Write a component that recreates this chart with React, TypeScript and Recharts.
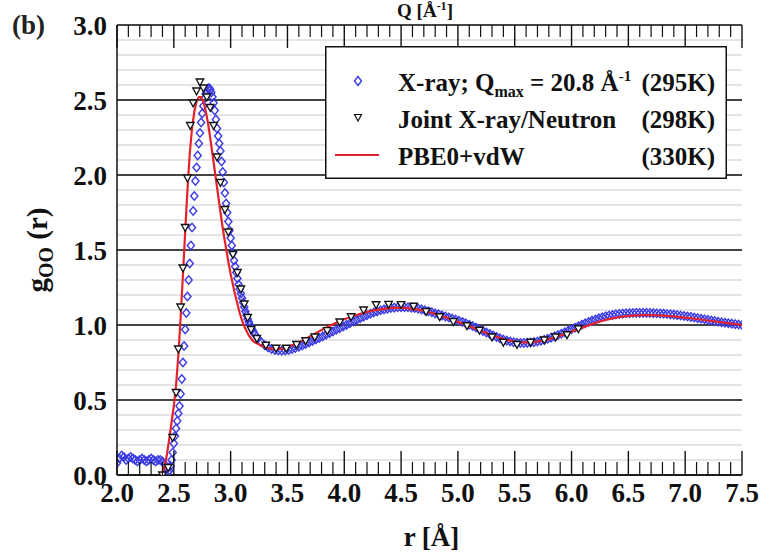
import React from "react"
import { ScatterChart, Scatter, XAxis, YAxis, CartesianGrid, Legend } from "recharts"

const FONT = '"Liberation Serif", "Times New Roman", serif'
const INK = "#111"
const BLUE = "#3a3ae6"
const RED = "#e2232b"
const PLOT_TOP = 25
const X_TICK_MARGIN = 8

// axis ticks
const xMinorTicks = Array.from({ length: 56 }, (_, i) => Math.round(20 + i) / 10)
const yMajorTicks = [0, 0.5, 1.0, 1.5, 2.0, 2.5, 3.0]
const yMinorTicks = Array.from({ length: 31 }, (_, i) => i / 10)

// X-ray g_OO(r), Qmax = 20.8 1/A (295K)
const xrayLow = [
  [2.00, 0.08], [2.02, 0.11], [2.04, 0.13], [2.06, 0.12], [2.08, 0.10], [2.10, 0.11], [2.12, 0.12], [2.14, 0.11],
  [2.16, 0.10], [2.18, 0.09], [2.20, 0.10], [2.22, 0.11], [2.24, 0.10], [2.26, 0.09], [2.28, 0.10], [2.30, 0.11],
  [2.32, 0.10], [2.34, 0.09], [2.36, 0.10], [2.38, 0.10], [2.40, 0.09], [2.42, 0.07], [2.44, 0.04],
]
const xrayPeak = [
  [2.45, 0.02], [2.46, 0.03], [2.47, 0.06], [2.48, 0.10], [2.49, 0.15], [2.50, 0.21], [2.51, 0.26], [2.52, 0.31],
  [2.53, 0.36], [2.54, 0.41], [2.55, 0.46], [2.56, 0.54], [2.57, 0.64], [2.58, 0.75], [2.59, 0.86], [2.60, 0.97],
  [2.61, 1.08], [2.62, 1.19], [2.63, 1.30], [2.64, 1.41], [2.65, 1.53], [2.66, 1.65], [2.67, 1.76], [2.68, 1.86],
  [2.69, 1.96], [2.70, 2.05], [2.71, 2.13], [2.72, 2.21], [2.73, 2.28], [2.74, 2.35], [2.75, 2.41], [2.76, 2.46],
  [2.77, 2.51], [2.78, 2.54], [2.79, 2.56], [2.80, 2.575], [2.81, 2.58], [2.82, 2.57], [2.83, 2.55], [2.84, 2.52],
  [2.85, 2.48], [2.86, 2.43], [2.87, 2.37], [2.88, 2.31], [2.89, 2.26], [2.90, 2.21], [2.91, 2.16], [2.92, 2.09],
  [2.93, 2.02], [2.94, 1.95], [2.95, 1.88], [2.96, 1.81], [2.97, 1.75], [2.98, 1.69], [2.99, 1.63], [3.00, 1.58],
  [3.01, 1.53], [3.02, 1.48], [3.03, 1.43], [3.04, 1.39], [3.05, 1.35], [3.06, 1.31], [3.07, 1.27], [3.08, 1.24],
  [3.09, 1.21], [3.10, 1.18], [3.11, 1.15], [3.12, 1.12], [3.13, 1.09], [3.14, 1.065], [3.15, 1.04], [3.16, 1.02],
  [3.17, 1.00], [3.18, 0.985], [3.19, 0.97], [3.20, 0.955],
]
const xrayTail = [
  [3.21, 0.94], [3.24, 0.91], [3.27, 0.885], [3.30, 0.865], [3.33, 0.85], [3.36, 0.84], [3.39, 0.834], [3.42, 0.83],
  [3.45, 0.829], [3.48, 0.83], [3.51, 0.834], [3.54, 0.84], [3.57, 0.847], [3.60, 0.855], [3.63, 0.864], [3.66, 0.873],
  [3.69, 0.883], [3.72, 0.893], [3.75, 0.903], [3.78, 0.913], [3.81, 0.924], [3.84, 0.935], [3.87, 0.946], [3.90, 0.957],
  [3.93, 0.968], [3.96, 0.979], [3.99, 0.99], [4.02, 1.001], [4.05, 1.012], [4.08, 1.023], [4.11, 1.034], [4.14, 1.045],
  [4.17, 1.056], [4.20, 1.066], [4.23, 1.075], [4.26, 1.083], [4.29, 1.091], [4.32, 1.098], [4.35, 1.104], [4.38, 1.109],
  [4.41, 1.113], [4.44, 1.116], [4.47, 1.118], [4.50, 1.119], [4.53, 1.119], [4.56, 1.118], [4.59, 1.116], [4.62, 1.113],
  [4.65, 1.109], [4.68, 1.104], [4.71, 1.098], [4.74, 1.092], [4.77, 1.085], [4.80, 1.077], [4.83, 1.071], [4.86, 1.064],
  [4.89, 1.057], [4.92, 1.050], [4.95, 1.043], [4.98, 1.036], [5.01, 1.028], [5.04, 1.020], [5.07, 1.011], [5.10, 1.002],
  [5.13, 0.993], [5.16, 0.983], [5.19, 0.972], [5.22, 0.961], [5.25, 0.950], [5.28, 0.940], [5.31, 0.930], [5.34, 0.920],
  [5.37, 0.911], [5.40, 0.903], [5.43, 0.896], [5.46, 0.890], [5.49, 0.885], [5.52, 0.882], [5.55, 0.880], [5.58, 0.880],
  [5.61, 0.881], [5.64, 0.883], [5.67, 0.886], [5.70, 0.890], [5.73, 0.895], [5.76, 0.901], [5.79, 0.908], [5.82, 0.916],
  [5.85, 0.924], [5.88, 0.933], [5.91, 0.942], [5.94, 0.952], [5.97, 0.962], [6.00, 0.972], [6.03, 0.982], [6.06, 0.992],
  [6.09, 1.002], [6.12, 1.011], [6.15, 1.020], [6.18, 1.029], [6.21, 1.037], [6.24, 1.045], [6.27, 1.052], [6.30, 1.058],
  [6.33, 1.063], [6.36, 1.067], [6.39, 1.071], [6.42, 1.074], [6.45, 1.076], [6.48, 1.078], [6.51, 1.079], [6.54, 1.080],
  [6.57, 1.081], [6.60, 1.081], [6.63, 1.081], [6.66, 1.081], [6.69, 1.080], [6.72, 1.079], [6.75, 1.078], [6.78, 1.077],
  [6.81, 1.075], [6.84, 1.073], [6.87, 1.071], [6.90, 1.069], [6.93, 1.066], [6.96, 1.063], [6.99, 1.060], [7.02, 1.057],
  [7.05, 1.054], [7.08, 1.050], [7.11, 1.046], [7.14, 1.042], [7.17, 1.038], [7.20, 1.034], [7.23, 1.030], [7.26, 1.026],
  [7.29, 1.022], [7.32, 1.018], [7.35, 1.015], [7.38, 1.012], [7.41, 1.009], [7.44, 1.006], [7.47, 1.003], [7.50, 1.000],
]

// joint X-ray/neutron fit (298K)
const joint = [
  [2.40, 0.00], [2.45, 0.05], [2.49, 0.25], [2.52, 0.55], [2.54, 0.84], [2.56, 1.12], [2.58, 1.38], [2.60, 1.65],
  [2.62, 1.98], [2.645, 2.33], [2.67, 2.48], [2.70, 2.56], [2.73, 2.62], [2.76, 2.58], [2.79, 2.52], [2.82, 2.45],
  [2.85, 2.33], [2.88, 2.12], [2.91, 1.95], [2.95, 1.77], [2.98, 1.62], [3.02, 1.47], [3.06, 1.35], [3.09, 1.24],
  [3.12, 1.14], [3.15, 1.05], [3.18, 0.97], [3.23, 0.91], [3.31, 0.865], [3.40, 0.845], [3.49, 0.845], [3.58, 0.87],
  [3.66, 0.895], [3.74, 0.92], [3.85, 0.962], [3.96, 1.02], [4.06, 1.055], [4.17, 1.10], [4.28, 1.135], [4.39, 1.138],
  [4.50, 1.136], [4.61, 1.125], [4.72, 1.09], [4.84, 1.055], [4.96, 1.022], [5.08, 0.995], [5.19, 0.965], [5.30, 0.92],
  [5.40, 0.885], [5.52, 0.87], [5.64, 0.885], [5.76, 0.90], [5.86, 0.92], [5.96, 0.935], [6.06, 0.975],
]

// PBE0+vdW simulation (330K)
const pbe = [
  [2.40, 0.00], [2.42, 0.06], [2.44, 0.14], [2.46, 0.24], [2.48, 0.35], [2.50, 0.46], [2.52, 0.60], [2.54, 0.80],
  [2.56, 1.05], [2.58, 1.33], [2.60, 1.62], [2.62, 1.90], [2.64, 2.14], [2.66, 2.31], [2.68, 2.42], [2.70, 2.49],
  [2.72, 2.52], [2.74, 2.52], [2.76, 2.49], [2.78, 2.43], [2.80, 2.35], [2.82, 2.25], [2.84, 2.14], [2.86, 2.03],
  [2.88, 1.92], [2.90, 1.81], [2.92, 1.70], [2.94, 1.60], [2.96, 1.51], [2.98, 1.42], [3.00, 1.34], [3.02, 1.27],
  [3.04, 1.20], [3.06, 1.14], [3.08, 1.08], [3.10, 1.03], [3.12, 0.99], [3.14, 0.96], [3.16, 0.93], [3.18, 0.91],
  [3.20, 0.89], [3.25, 0.87], [3.30, 0.852], [3.35, 0.843], [3.40, 0.84], [3.45, 0.843], [3.50, 0.852], [3.55, 0.866],
  [3.60, 0.884], [3.65, 0.904], [3.70, 0.925], [3.75, 0.946], [3.80, 0.967], [3.85, 0.987], [3.90, 1.005], [3.95, 1.022],
  [4.00, 1.038], [4.05, 1.052], [4.10, 1.065], [4.15, 1.077], [4.20, 1.087], [4.25, 1.096], [4.30, 1.103], [4.35, 1.108],
  [4.40, 1.112], [4.45, 1.114], [4.50, 1.114], [4.55, 1.112], [4.60, 1.108], [4.65, 1.102], [4.70, 1.094], [4.75, 1.085],
  [4.80, 1.074], [4.85, 1.062], [4.90, 1.049], [4.95, 1.035], [5.00, 1.021], [5.05, 1.006], [5.10, 0.991], [5.15, 0.976],
  [5.20, 0.961], [5.25, 0.946], [5.30, 0.932], [5.35, 0.919], [5.40, 0.907], [5.45, 0.897], [5.50, 0.89], [5.55, 0.885],
  [5.60, 0.884], [5.65, 0.886], [5.70, 0.89], [5.75, 0.897], [5.80, 0.906], [5.85, 0.917], [5.90, 0.929], [5.95, 0.942],
  [6.00, 0.956], [6.05, 0.970], [6.10, 0.984], [6.15, 0.998], [6.20, 1.011], [6.25, 1.023], [6.30, 1.034], [6.35, 1.043],
  [6.40, 1.050], [6.45, 1.056], [6.50, 1.060], [6.55, 1.063], [6.60, 1.065], [6.65, 1.066], [6.70, 1.066], [6.75, 1.065],
  [6.80, 1.063], [6.85, 1.060], [6.90, 1.057], [6.95, 1.053], [7.00, 1.049], [7.05, 1.045], [7.10, 1.040], [7.15, 1.035],
  [7.20, 1.030], [7.25, 1.025], [7.30, 1.020], [7.35, 1.015], [7.40, 1.010], [7.45, 1.005], [7.50, 1.000],
]

const toPoints = (rows: number[][]) => rows.map(([r, g]) => ({ r, g }))
const xrayData = toPoints([...xrayLow, ...xrayPeak, ...xrayTail])
const jointData = toPoints(joint)
const pbeData = toPoints(pbe)

const Diamond = (p: any) => {
  const { cx, cy } = p
  if (cx == null || cy == null) return <g />
  return (
    <path
      d={`M${cx},${cy - 4.2}L${cx + 3.6},${cy}L${cx},${cy + 4.2}L${cx - 3.6},${cy}Z`}
      fill="none"
      stroke={BLUE}
      strokeWidth={1.4}
    />
  )
}

const DownTriangle = (p: any) => {
  const { cx, cy } = p
  if (cx == null || cy == null) return <g />
  return (
    <path
      d={`M${cx - 3.8},${cy - 3}L${cx + 3.8},${cy - 3}L${cx},${cy + 3.8}Z`}
      fill="#fff"
      stroke={INK}
      strokeWidth={1.3}
    />
  )
}

const NoDot = () => <g />

const labelFont = { fontFamily: FONT, fontWeight: "bold" as const, fill: INK }

// bottom axis tick: inward tick marks on bottom and top frame, label on every 0.5
const XTick = (p: any) => {
  const { x, y, payload } = p
  const v = Number(payload.value)
  const major = Math.abs(v * 2 - Math.round(v * 2)) < 1e-6
  const base = y - X_TICK_MARGIN
  return (
    <g>
      <line x1={x} x2={x} y1={base} y2={base - (major ? 24 : 13)} stroke={INK} strokeWidth={major ? 1.4 : 1.2} />
      <line x1={x} x2={x} y1={PLOT_TOP} y2={PLOT_TOP + (major ? 23 : 12)} stroke={INK} strokeWidth={major ? 1.4 : 1.2} />
      {major && (
        <text x={x} y={y} dy="0.71em" textAnchor="middle" fontSize={27} {...labelFont}>
          {v.toFixed(1)}
        </text>
      )}
    </g>
  )
}

const YTitle = (props: any) => {
  const vb = props.viewBox || { y: 25, height: 450 }
  const cy = vb.y + vb.height / 2
  return (
    <text transform={`translate(47,${cy}) rotate(-90)`} textAnchor="middle" fontSize={29} {...labelFont}>
      g<tspan fontSize={20} dy={6}>OO</tspan>
      <tspan dy={-6}> (r)</tspan>
    </text>
  )
}

const XTitle = (props: any) => {
  const vb = props.viewBox || { x: 117, y: 475, width: 625, height: 50 }
  return (
    <text x={vb.x + vb.width / 2 + 2} y={vb.y + vb.height + 21} textAnchor="middle" fontSize={27} {...labelFont}>
      r [Å]
    </text>
  )
}

const legendRows = [
  { label: "Joint X-ray/Neutron", temp: "(298K)" },
  { label: "PBE0+vdW", temp: "(330K)" },
]

const LegendBox = () => (
  <svg width={402} height={133} style={{ display: "block" }}>
    <rect x={0.75} y={0.75} width={400.5} height={131.5} fill="#fff" stroke={INK} strokeWidth={1.5} />
    <g fontSize={25} {...labelFont}>
      <path d="M33,30.5L36.5,35L33,39.5L29.5,35Z" fill="none" stroke={BLUE} strokeWidth={1.4} />
      <text x={73} y={45}>
        X-ray; Q<tspan fontSize={16} dy={6}>max</tspan>
        <tspan dy={-6}> = 20.8 Å</tspan>
        <tspan fontSize={15} dy={-10}>-1</tspan>
      </text>
      <text x={390} y={45} textAnchor="end">(295K)</text>

      <path d="M29.5,68.5L36.5,68.5L33,75Z" fill="#fff" stroke={INK} strokeWidth={1.2} />
      <text x={73} y={82}>{legendRows[0].label}</text>
      <text x={390} y={82} textAnchor="end">{legendRows[0].temp}</text>

      <line x1={10} x2={54} y1={109} y2={109} stroke={RED} strokeWidth={2} />
      <text x={73} y={119}>{legendRows[1].label}</text>
      <text x={390} y={119} textAnchor="end">{legendRows[1].temp}</text>
    </g>
  </svg>
)

export default function App() {
  return (
    <div style={{ position: "absolute", left: 0, top: 0, width: 766, height: 553, background: "#fff" }}>
      <ScatterChart width={766} height={553} margin={{ top: PLOT_TOP, right: 24, bottom: 28, left: 0 }}>
        <CartesianGrid yAxisId="minor" vertical={false} stroke="#c9c9c9" strokeWidth={1} />
        <CartesianGrid vertical={false} stroke={INK} strokeWidth={1.4} />

        <XAxis
          dataKey="r"
          type="number"
          domain={[2, 7.5]}
          allowDataOverflow
          ticks={xMinorTicks}
          interval={0}
          tickLine={false}
          tickSize={0}
          tickMargin={X_TICK_MARGIN}
          tick={<XTick />}
          axisLine={{ stroke: INK, strokeWidth: 1.5 }}
          height={50}
          label={<XTitle />}
        />

        <YAxis
          dataKey="g"
          type="number"
          domain={[0, 3]}
          allowDataOverflow
          ticks={yMajorTicks}
          interval={0}
          tickFormatter={(v: number) => v.toFixed(1)}
          tickLine={false}
          tickSize={0}
          tickMargin={10}
          tick={{ ...labelFont, fontSize: 27 }}
          axisLine={{ stroke: INK, strokeWidth: 1.5 }}
          width={117}
          label={<YTitle />}
        />
        <YAxis yAxisId="minor" type="number" domain={[0, 3]} allowDataOverflow ticks={yMinorTicks} interval={0} hide />
        <YAxis yAxisId="right" orientation="right" type="number" domain={[0, 3]} width={0} tick={false} tickLine={false} axisLine={{ stroke: INK, strokeWidth: 1.5 }} />

        <Scatter name="X-ray" data={xrayData} dataKey="g" shape={Diamond} isAnimationActive={false} />
        <Scatter name="PBE0+vdW" data={pbeData} dataKey="g" shape={NoDot} line={{ stroke: RED, strokeWidth: 2.2 }} lineType="joint" isAnimationActive={false} />
        <Scatter name="Joint X-ray/Neutron" data={jointData} dataKey="g" shape={DownTriangle} isAnimationActive={false} />

        <Legend
          layout="horizontal"
          verticalAlign="middle"
          align="center"
          content={() => <LegendBox />}
          wrapperStyle={{ left: 325, top: 46, width: 402, height: 133 }}
        />
      </ScatterChart>
      <svg width={766} height={553} style={{ position: "absolute", left: 0, top: 0, pointerEvents: "none" }}>
        <text x={12} y={34} fontSize={27} {...labelFont} fill="#222">(b)</text>
        <text x={425} y={17} textAnchor="middle" fontSize={19} {...labelFont}>
          Q [Å<tspan fontSize={12} dy={-7}>-1</tspan>
          <tspan dy={7}>]</tspan>
        </text>
      </svg>
    </div>
  )
}
